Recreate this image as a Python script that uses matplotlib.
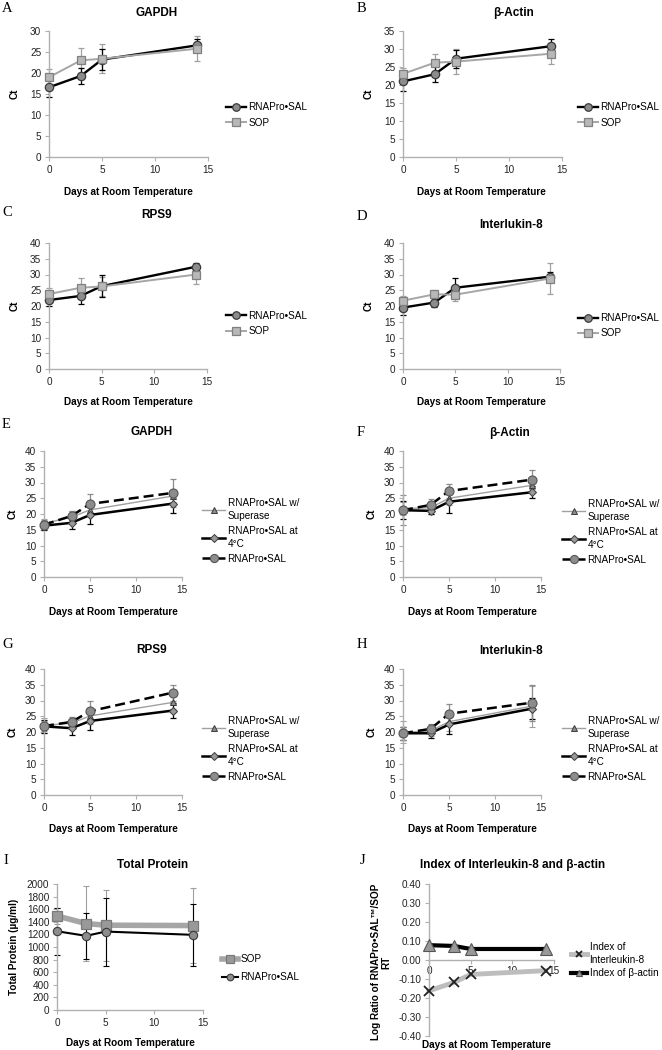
import matplotlib
matplotlib.use("Agg")
import matplotlib.pyplot as plt

plt.rcParams['font.family'] = ['Liberation Sans', 'DejaVu Sans']

W, H = 662, 1050

# ---------------- data ----------------
days = [0, 3, 5, 14]

A_rna = [16.6, 19.3, 23.2, 26.6]; A_rna_err = [2.2, 2.0, 2.5, 1.5]
A_sop = [19.0, 23.0, 23.4, 25.8]; A_sop_err = [1.9, 3.0, 3.5, 2.9]
B_rna = [21.0, 23.0, 27.3, 30.8]; B_rna_err = [2.6, 2.2, 2.5, 2.0]
B_sop = [23.1, 26.2, 26.5, 28.7]; B_sop_err = [1.7, 2.5, 3.4, 3.0]
C_rna = [21.9, 23.2, 26.3, 32.5]; C_rna_err = [2.0, 2.5, 3.5, 1.0]
C_sop = [23.8, 25.8, 26.2, 30.0]; C_sop_err = [2.0, 3.0, 3.0, 3.0]
D_rna = [19.5, 21.1, 25.8, 29.3]; D_rna_err = [2.4, 1.5, 3.2, 1.5]
D_sop = [21.7, 23.7, 23.6, 28.7]; D_sop_err = [1.5, 1.5, 2.0, 5.0]

E_sup = [17.0, 19.0, 21.3, 25.7]; E_sup_err = [1.5, 2.0, 2.0, 2.0]
E_4c = [16.3, 17.2, 19.7, 23.3]; E_4c_err = [1.5, 2.0, 2.9, 2.9]
E_rna = [16.6, 19.4, 23.2, 26.7]; E_rna_err = [1.5, 1.5, 3.0, 4.4]
F_sup = [21.7, 22.0, 25.0, 29.1]; F_sup_err = [2.0, 2.0, 2.0, 2.0]
F_4c = [21.2, 21.0, 23.9, 26.9]; F_4c_err = [2.8, 1.0, 3.5, 1.9]
F_rna = [21.2, 22.9, 27.3, 30.9]; F_rna_err = [4.8, 2.0, 2.3, 3.0]
G_sup = [22.1, 22.8, 25.1, 29.4]; G_sup_err = [2.5, 2.0, 2.5, 2.0]
G_4c = [21.8, 21.2, 23.5, 26.8]; G_4c_err = [2.0, 2.0, 3.0, 2.5]
G_rna = [21.9, 23.2, 26.6, 32.5]; G_rna_err = [1.5, 1.5, 3.4, 2.5]
H_sup = [19.9, 20.3, 23.3, 28.2]; H_sup_err = [3.5, 1.5, 3.0, 6.5]
H_4c = [19.6, 19.6, 22.4, 27.4]; H_4c_err = [2.0, 1.5, 3.0, 3.3]
H_rna = [19.6, 21.0, 25.8, 29.3]; H_rna_err = [2.0, 1.5, 3.0, 5.7]

I_sop = [1493, 1372, 1346, 1340]; I_sop_err = [120, 600, 565, 600]
I_rna = [1250, 1177, 1245, 1193]; I_rna_err = [370, 370, 540, 490]

J_il8 = [-0.162, -0.118, -0.076, -0.056]
J_bact = [0.078, 0.074, 0.058, 0.058]

x_ticks = [0, 5, 10, 15]
label_rna = "RNAPro•SAL"
label_sop = "SOP"
label_sup = "RNAPro•SAL w/\nSuperase"
label_4c = "RNAPro•SAL at\n4°C"
xlabel = "Days at Room Temperature"

# ---------------- helpers ----------------
fig = plt.figure(figsize=(W / 100, H / 100), dpi=100)
SPINE = '#b0b0b0'


def fx(x):
    return x / W


def fy(y):
    return 1 - y / H


def make_ax(l, t, r, b, ylim, yticks, yfmt=None):
    ax = fig.add_axes([l / W, 1 - b / H, (r - l) / W, (b - t) / H])
    ax.set_xlim(0, 15)
    ax.set_ylim(*ylim)
    ax.set_xticks(x_ticks)
    ax.set_yticks(yticks)
    if yfmt:
        ax.set_yticklabels([yfmt.format(v) for v in yticks])
    for s in ['top', 'right']:
        ax.spines[s].set_visible(False)
    for s in ['left', 'bottom']:
        ax.spines[s].set_color(SPINE)
        ax.spines[s].set_linewidth(1.0)
    ax.tick_params(direction='out', length=3, width=0.8, color=SPINE,
                   labelsize=7.2, labelcolor='#222222', pad=2.5)
    ax.patch.set_alpha(0)
    return ax


def txt(x, y, s, size=7.2, bold=True, **kw):
    fig.text(fx(x), fy(y), s, ha=kw.pop('ha', 'center'), va=kw.pop('va', 'center'),
             fontsize=size, fontweight='bold' if bold else 'normal', **kw)


def letter(x, y, s):
    fig.text(fx(x), fy(y), s, ha='left', va='center', fontsize=10.5,
             family=['Liberation Serif', 'DejaVu Serif'])


def ebar(ax, y, err, color, lw=0.9):
    c = ax.errorbar(days, y, yerr=err, fmt='none', ecolor=color, elinewidth=lw,
                    capsize=2, capthick=lw, zorder=2)
    for a in c.get_children():
        a.set_clip_on(False)


def leg(ax, handles, labels, x, y, spacing=0.55, hl=2.0, ms=0.9):
    ax.legend(handles, labels, loc='upper left', bbox_to_anchor=(fx(x), fy(y)),
              bbox_transform=fig.transFigure, frameon=False, fontsize=7.2,
              handlelength=hl, handletextpad=0.25, borderpad=0, borderaxespad=0,
              labelspacing=spacing, markerscale=ms)


def two_series(box, ylim, yticks, rna, rna_err, sop, sop_err, title, tpos,
               let, lpos, xlpos, legpos):
    ax = make_ax(*box, ylim, yticks)
    ebar(ax, sop, sop_err, '#a0a0a0')
    ebar(ax, rna, rna_err, 'black')
    l1, = ax.plot(days, rna, color='black', lw=1.7, marker='o', ms=6,
                  mfc='#8c8c8c', mec='#3a3a3a', mew=0.9, clip_on=False, zorder=3)
    l2, = ax.plot(days, sop, color='#a6a6a6', lw=1.4, marker='s', ms=6,
                  mfc='#b8b8b8', mec='#808080', mew=0.9, clip_on=False, zorder=4)
    txt(*tpos, title, size=8.5)
    letter(*lpos, let)
    txt(*xlpos, xlabel)
    txt(box[0] - 34, (box[1] + box[3]) / 2, "Ct", rotation=90)
    leg(ax, [l1, l2], [label_rna, label_sop], *legpos)
    return ax


def three_series(box, sup, sup_err, c4, c4_err, rna, rna_err, title, tpos,
                 let, lpos, xlpos, legpos):
    ax = make_ax(*box, (0, 40), [0, 5, 10, 15, 20, 25, 30, 35, 40])
    ebar(ax, sup, sup_err, '#a0a0a0', lw=0.8)
    ebar(ax, c4, c4_err, 'black', lw=0.9)
    ebar(ax, rna, rna_err, '#8c8c8c', lw=0.9)
    l1, = ax.plot(days, sup, color='#a0a0a0', lw=1.0, marker='^', ms=4.5,
                  mfc='#8c8c8c', mec='#3a3a3a', mew=0.7, clip_on=False, zorder=3)
    l2, = ax.plot(days, c4, color='black', lw=1.8, marker='D', ms=4,
                  mfc='#999999', mec='#3a3a3a', mew=0.7, clip_on=False, zorder=4)
    l3, = ax.plot(days, rna, color='black', lw=1.8, ls=(0, (4, 2)), marker='o', ms=6.5,
                  mfc='#8c8c8c', mec='#555555', mew=0.8, clip_on=False, zorder=5)
    txt(*tpos, title, size=8.5)
    letter(*lpos, let)
    txt(*xlpos, xlabel)
    txt(box[0] - 31, (box[1] + box[3]) / 2, "Ct", rotation=90)
    leg(ax, [l1, l2, l3], [label_sup, label_4c, label_rna], *legpos,
        spacing=0.5, hl=2.3)
    for t in ax.get_legend().get_texts():
        t.set_linespacing(1.35)
    return ax


# ---------------- panels A-D ----------------
two_series((49, 31, 208, 157), (0, 30), [0, 5, 10, 15, 20, 25, 30],
           A_rna, A_rna_err, A_sop, A_sop_err, "GAPDH", (157, 13),
           "A", (2, 8), (128, 192), (226, 102))
two_series((403, 31, 562, 157), (0, 35), [0, 5, 10, 15, 20, 25, 30, 35],
           B_rna, B_rna_err, B_sop, B_sop_err, "β-Actin", (514, 13),
           "B", (357, 8), (481, 192), (578, 102))
two_series((49, 243, 207, 369), (0, 40), [0, 5, 10, 15, 20, 25, 30, 35, 40],
           C_rna, C_rna_err, C_sop, C_sop_err, "RPS9", (157, 215),
           "C", (2, 212), (128, 402), (226, 311))
two_series((403, 243, 560, 369), (0, 40), [0, 5, 10, 15, 20, 25, 30, 35, 40],
           D_rna, D_rna_err, D_sop, D_sop_err, "Interlukin-8", (511, 225),
           "D", (357, 216), (481, 402), (578, 313))

# ---------------- panels E-H ----------------
three_series((44, 451, 182, 577), E_sup, E_sup_err, E_4c, E_4c_err, E_rna, E_rna_err,
             "GAPDH", (152, 432), "E", (2, 425), (113, 612), (202, 498))
three_series((403, 451, 541, 577), F_sup, F_sup_err, F_4c, F_4c_err, F_rna, F_rna_err,
             "β-Actin", (509, 433), "F", (357, 433), (472, 612), (562, 499))
three_series((44, 669, 182, 795), G_sup, G_sup_err, G_4c, G_4c_err, G_rna, G_rna_err,
             "RPS9", (152, 650), "G", (2, 645), (113, 829), (202, 716))
three_series((403, 669, 541, 795), H_sup, H_sup_err, H_4c, H_4c_err, H_rna, H_rna_err,
             "Interlukin-8", (511, 651), "H", (357, 645), (472, 829), (562, 716))

# ---------------- panel I ----------------
axI = make_ax(57, 884, 203, 1010, (0, 2000), list(range(0, 2001, 200)))
ebar(axI, I_sop, I_sop_err, '#a0a0a0', lw=0.8)
ebar(axI, I_rna, I_rna_err, 'black', lw=0.8)
lI2, = axI.plot(days, I_rna, color='black', lw=1.5, marker='o', ms=6,
                mfc='#8c8c8c', mec='#3a3a3a', mew=0.8, clip_on=False, zorder=4)
lI1, = axI.plot(days, I_sop, color='#a6a6a6', lw=4, marker='s', ms=7.5,
                mfc='#999999', mec='#7a7a7a', mew=0.9, clip_on=False, zorder=3)
txt(153, 865, "Total Protein", size=8.5)
letter(3, 860, "I")
txt(130, 1043, xlabel)
txt(14, 947, "Total Protein (µg/ml)", rotation=90)
leg(axI, [lI1, lI2], [label_sop, label_rna], 222, 954, spacing=0.8, hl=1.6, ms=0.8)

# ---------------- panel J ----------------
axJ = make_ax(429, 884, 554, 1036, (-0.4, 0.4),
              [-0.4, -0.3, -0.2, -0.1, 0.0, 0.1, 0.2, 0.3, 0.4], yfmt="{:.2f}")
axJ.spines['bottom'].set_position(('data', 0))
axJ.tick_params(axis='x', pad=1.5)
lJ1, = axJ.plot(days, J_il8, color='#bdbdbd', lw=3.5, marker='x', ms=7.5,
                mec='#222222', mew=1.3, clip_on=False, zorder=6)
lJ2, = axJ.plot(days, J_bact, color='black', lw=3, marker='^', ms=8,
                mfc='#999999', mec='#555555', mew=0.8, clip_on=False, zorder=6)
txt(513, 865, "Index of Interleukin-8 and β-actin", size=8.5)
letter(360, 860, "J")
txt(486, 1045, xlabel)
txt(381, 962, "Log Ratio of RNAPro•SAL™/SOP\nRT", rotation=90, linespacing=1.1)
leg(axJ, [lJ1, lJ2], ["Index of\nInterleukin-8", "Index of β-actin"], 571, 942,
    spacing=0.35, hl=1.6, ms=0.6)
for t in axJ.get_legend().get_texts():
    t.set_linespacing(1.35)

fig.savefig("out.png", dpi=100)
